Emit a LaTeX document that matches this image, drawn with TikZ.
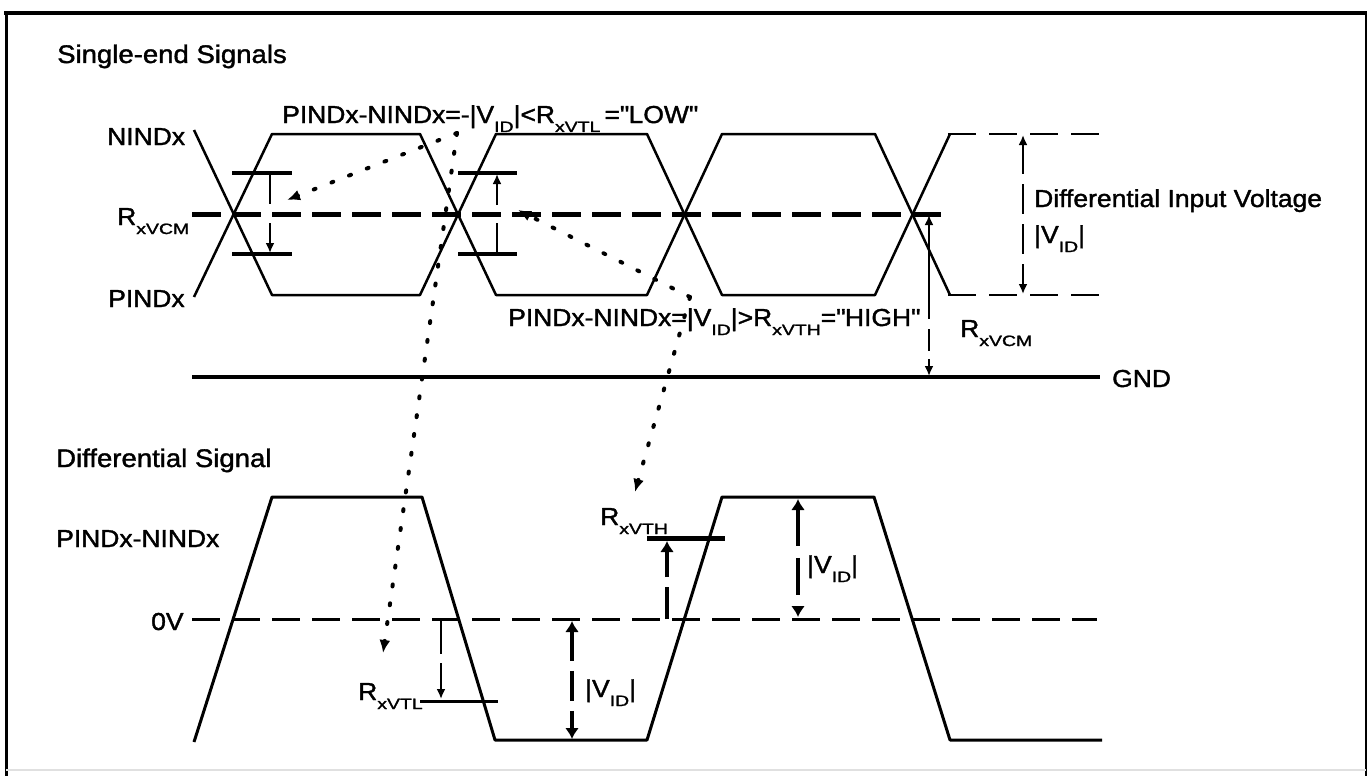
\documentclass[tikz,border=0pt]{standalone}
\usepackage{fontspec}
\usepackage{graphicx}
\setmainfont[FakeStretch=1.08,FakeBold=1.5]{Liberation Sans}
\usetikzlibrary{arrows.meta}
\newcommand{\sbs}[1]{\raisebox{-9pt}{\scalebox{1.2}[1]{\fontsize{15}{15}\selectfont #1}}}
\newcommand{\qq}{\textquotedbl}
\begin{document}
\begin{tikzpicture}[x=1pt,y=-1pt,line join=round,
  lbl/.style={inner sep=0pt,anchor=base west,font=\fontsize{24.5}{24.5}\selectfont},
  ttl/.style={inner sep=0pt,anchor=base west,font=\fontsize{25.5}{25.5}\selectfont},
  wave/.style={line width=2.5pt},
  dwave/.style={line width=3pt},
  barline/.style={line width=4pt},
  cmline/.style={line width=5pt,dash pattern=on 29pt off 11pt},
  zeroline/.style={line width=3pt,dash pattern=on 28pt off 12pt},
  edgedash/.style={line width=2.5pt,dash pattern=on 28pt off 13pt},
  tip/.style={-{Latex[length=10pt,width=9pt]}},
  tips/.style={{Latex[length=10pt,width=9pt]}-{Latex[length=10pt,width=9pt]}},
  bigtips/.style={{Latex[length=11pt,width=14pt]}-{Latex[length=11pt,width=14pt]}},
  bigtip/.style={-{Latex[length=11pt,width=14pt]}},
  dotarrow/.style={line width=4pt,line cap=round,dash pattern=on 2pt off 17pt,
    -{Latex[length=13pt,width=11pt]}}]
\useasboundingbox (0,0) rectangle (1371,776);
\fill[white] (0,0) rectangle (1371,776);
% frame
\draw[line width=3.5pt] (4,13) -- (1367,13);
\draw[line width=3pt] (6,11.5) -- (6,776);
\draw[line width=2.5pt] (1366,12) -- (1366,776);
\draw[line width=2pt,black!12] (6,770) -- (1366,770);

% ---------- single-ended panel ----------
\node[ttl] (t1) at (57,63) {Single-end Signals};
\node[lbl] (nlab) at (107,145) {NINDx};
\node[lbl] (cmlab) at (117,225) {R\sbs{xVCM}};
\node[lbl] (plab) at (108,307) {PINDx};
\node[lbl] (lowtxt) at (282,123) {PINDx-NINDx=-|V\sbs{ID}|<R\sbs{xVTL}\,=\qq LOW\qq};
\node[lbl] (hightxt) at (508,326) {PINDx-NINDx=|V\sbs{ID}|>R\sbs{xVTH}=\qq HIGH\qq};
\node[lbl] (dlab) at (1034,207) {Differential Input Voltage};
\node[lbl] (vid1) at (1034,243) {|V\sbs{ID}|};
\node[lbl] (cm2) at (960,337) {R\sbs{xVCM}};
\node[lbl] (gnd) at (1112,387) {GND};

% common-mode and ground
\draw[cmline] (192,214) -- (950,214);
\draw[barline] (192,377) -- (1100,377);

% waveforms
\draw[wave] (194,130) -- (272,295) -- (420,295) -- (496,134) -- (647,134) -- (722,295) -- (875,295) -- (950,134);
\draw[wave] (194,297) -- (272,134) -- (420,134) -- (496,295) -- (647,295) -- (722,134) -- (875,134) -- (950,295);
\draw[edgedash] (948,134) -- (1100,134);
\draw[edgedash] (948,295) -- (1100,295);

% threshold bars
\draw[barline] (232,173) -- (292,173);
\draw[barline] (232,254) -- (292,254);
\draw[barline] (458,173) -- (517,173);
\draw[barline] (458,254) -- (517,254);
\draw[wave] (270,173) -- (270,204);
\draw[wave,tip] (270,223) -- (270,253);
\draw[wave,tip] (497,205) -- (497,174);
\draw[wave] (497,223) -- (497,254);

% right annotations
\draw[line width=2pt,dash pattern=on 30pt off 10pt,tips] (1023,135) -- (1023,294);
\draw[wave,dash pattern=on 95pt off 10pt on 22pt off 8pt on 40pt,tips] (929,215) -- (929,376);

% ---------- differential panel ----------
\node[ttl] (t2) at (56,467) {Differential Signal};
\node[lbl] (dslab) at (56,547) {PINDx-NINDx};
\node[lbl] (zlab) at (151,630) {0V};
\node[lbl] (vtl) at (358,700) {R\sbs{xVTL}};
\node[lbl] (vth) at (600,525) {R\sbs{xVTH}};
\node[lbl] (vid2) at (585,697) {|V\sbs{ID}|};
\node[lbl] (vid3) at (807,573) {|V\sbs{ID}|};

\draw[zeroline] (192,619) -- (1097,619);
\draw[dwave] (194,742) -- (272,497) -- (422,497) -- (495,740) -- (647,740) -- (722,497) -- (874,497) -- (950,740) -- (1102,740);

\draw[wave,dash pattern=on 35pt off 9pt,tip] (441,619) -- (441,699);
\draw[line width=3pt] (420,701) -- (498,701);
\draw[line width=4.5pt,dash pattern=on 30pt off 10pt,bigtips] (572,621) -- (572,739);
\draw[line width=4.5pt,dash pattern=on 32pt off 10pt,bigtip] (667,619) -- (667,541);
\draw[line width=5pt] (647,538) -- (725,538);
\draw[line width=4.5pt,dash pattern=on 37pt off 12pt,bigtips] (798,499) -- (798,617);

% dotted pointers
\coordinate (lowsrc) at (457,133);
\coordinate (lowA) at (287,200);
\coordinate (lowB) at (383,653);
\coordinate (highsrc) at (690,297);
\coordinate (highA) at (518,210);
\coordinate (highB) at (635,492);
\draw[dotarrow] (lowsrc) -- (lowA);
\draw[dotarrow] (lowsrc) -- (lowB);
\draw[dotarrow] (highsrc) -- (highA);
\draw[dotarrow] (highsrc) -- (highB);
\end{tikzpicture}
\end{document}
